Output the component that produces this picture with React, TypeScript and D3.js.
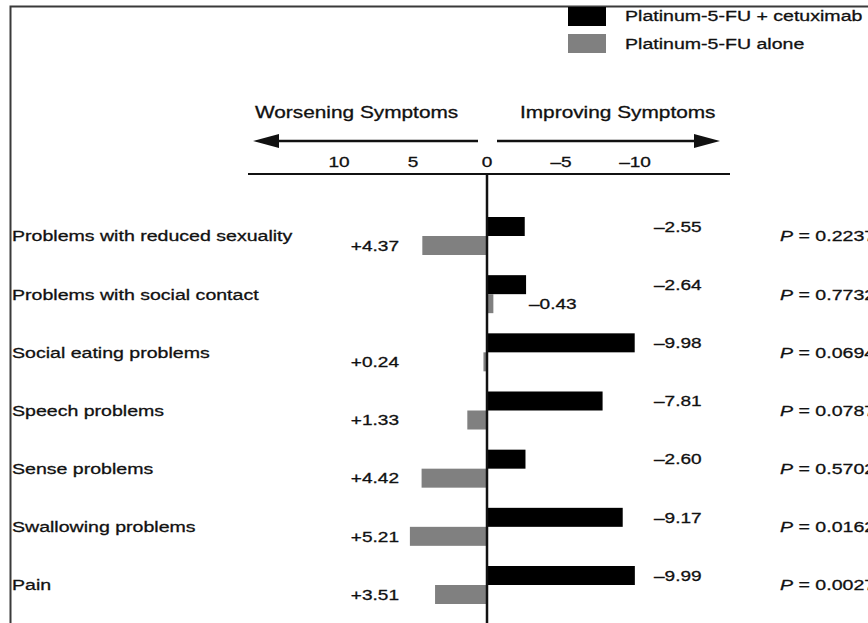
import * as d3 from "d3";

const categories = [
  "Problems with reduced sexuality",
  "Problems with social contact",
  "Social eating problems",
  "Speech problems",
  "Sense problems",
  "Swallowing problems",
  "Pain",
];
const cetuximab = [-2.55, -2.64, -9.98, -7.81, -2.6, -9.17, -9.99];
const alone = [4.37, -0.43, 0.24, 1.33, 4.42, 5.21, 3.51];
const pValues = ["0.2237", "0.7732", "0.0694", "0.0787", "0.5702", "0.0162", "0.0027"];
const ticks = [10, 5, 0, -5, -10];
const seriesNames = ["Platinum-5-FU + cetuximab", "Platinum-5-FU alone"];

const width = 868;
const height = 623;
const SX = 1.27; // the source figure is stretched sideways
const font = "'Liberation Sans', Arial, Helvetica, sans-serif";
const grey = "#808080";
const barH = 19;

const fmt = (v: number) => (v < 0 ? "\u2013" : "+") + Math.abs(v).toFixed(2);
const fmtTick = (v: number) => (v < 0 ? "\u2013" + Math.abs(v) : String(v));

const Txt = ({ x, y, size = 15.4, anchor = "start", italic = false, dy = "0.35em", children }: any) => (
  <text
    transform={`translate(${x},${y}) scale(${SX},1)`}
    dy={dy}
    fontSize={size}
    fontFamily={font}
    textAnchor={anchor}
    fill="#111"
    stroke="#111"
    strokeWidth={0.3}
  >
    {italic ? <tspan fontStyle="italic">P</tspan> : null}
    {children}
  </text>
);

const App = () => {
  const x = d3.scaleLinear().domain([10, -10]).range([339, 635]);
  const y = d3.scalePoint().domain(categories).range([236, 585]);
  const x0 = x(0);

  return (
    <svg width={width} height={height} style={{ position: "absolute", left: 0, top: 0, background: "#fff" }}>
      {/* frame */}
      <path d={`M10.5,${height} V6.5 H${width}`} fill="none" stroke="#3a3a3a" strokeWidth={2} />

      {/* legend */}
      {seriesNames.map((s, i) => (
        <g key={s}>
          <rect x={568} y={7 + i * 27} width={38} height={19} fill={i === 0 ? "#000" : grey} />
          <Txt x={625} y={16 + i * 28} size={15.4}>{s}</Txt>
        </g>
      ))}

      {/* direction header */}
      <Txt x={255} y={112} size={16.4}>Worsening Symptoms</Txt>
      <Txt x={520} y={112} size={16.4}>Improving Symptoms</Txt>
      <line x1={478} x2={270} y1={141} y2={141} stroke="#111" strokeWidth={2.5} />
      <path d="M253,141 L279,134 L279,148 Z" fill="#111" />
      <line x1={497} x2={700} y1={141} y2={141} stroke="#111" strokeWidth={2.5} />
      <path d="M720,141 L694,134 L694,148 Z" fill="#111" />

      {/* axis */}
      {ticks.map((t) => (
        <Txt key={t} x={x(t)} y={162} size={15} anchor="middle">{fmtTick(t)}</Txt>
      ))}
      <line x1={248} x2={730} y1={174} y2={174} stroke="#111" strokeWidth={2} />

      {/* bars */}
      {categories.map((c, i) => {
        const yc = y(c) as number;
        const vb = cetuximab[i];
        const vg = alone[i];
        return (
          <g key={c}>
            <rect x={Math.min(x(vb), x0)} y={yc - barH} width={Math.abs(x(vb) - x0)} height={barH} fill="#000" />
            <rect x={Math.min(x(vg), x0)} y={yc} width={Math.abs(x(vg) - x0)} height={barH} fill={grey} />
            <Txt x={12} y={yc}>{c}</Txt>
            <Txt x={654} y={yc - barH / 2} size={15}>{fmt(vb)}</Txt>
            {vg >= 0 ? (
              <Txt x={399} y={yc + barH / 2} size={15} anchor="end">{fmt(vg)}</Txt>
            ) : (
              <Txt x={x0 + 42} y={yc + barH / 2} size={15}>{fmt(vg)}</Txt>
            )}
            {/* the source crop cuts these off at the right edge */}
            <Txt x={780} y={yc} size={15.4} italic>{" = " + pValues[i]}</Txt>
          </g>
        );
      })}

      <line x1={x0} x2={x0} y1={174} y2={height} stroke="#111" strokeWidth={2.5} />
    </svg>
  );
};

export default App;
